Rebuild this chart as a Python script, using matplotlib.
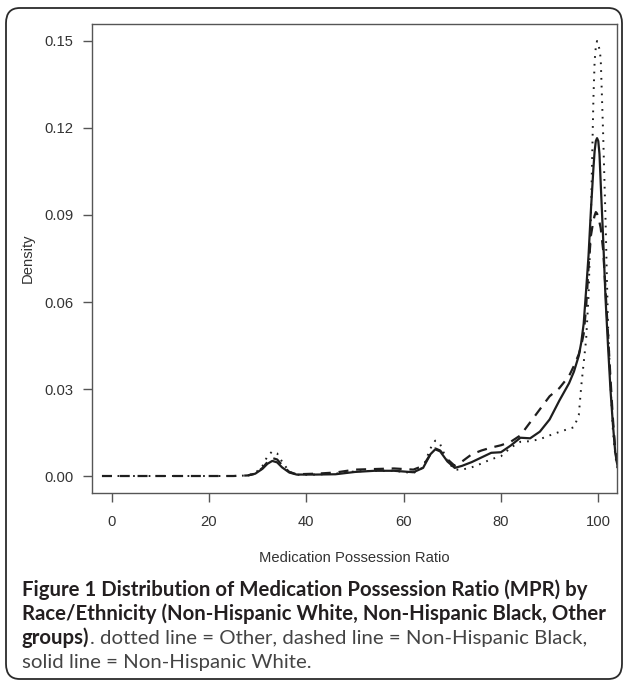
"""Density of medication possession ratio by race/ethnicity (figure 1 recreation)."""

import matplotlib

matplotlib.use("Agg")
import matplotlib.pyplot as plt
from matplotlib.patches import FancyBboxPatch

mpr = [-2, 0, 5, 10, 15, 20, 25, 28, 29.5, 31, 32, 33, 34, 35, 36.5, 38, 42, 46,
       50, 54, 58, 62, 64, 65.5, 66.5, 67.5, 69, 70.5, 72, 74, 76, 78, 80, 82,
       84, 86, 88, 90, 92, 94, 95, 96, 96.5, 97, 97.5, 98, 98.5, 99, 99.25,
       99.5, 99.75, 100, 100.25, 100.5, 101, 101.5, 102, 102.5, 103, 103.5, 104]

# the white curve only starts at MPR 28
density_white = [0.0002, 0.0008, 0.0025, 0.0042, 0.0052,
                 0.0047, 0.003, 0.0012, 0.0005, 0.0005, 0.0006, 0.0014, 0.0018,
                 0.0018, 0.0013, 0.0028, 0.0075, 0.0092, 0.0085, 0.005, 0.0028,
                 0.0035, 0.0048, 0.0064, 0.0080, 0.0082, 0.0105, 0.0132, 0.013,
                 0.0153, 0.0195, 0.026, 0.032, 0.036, 0.0415, 0.046, 0.0525,
                 0.064, 0.076, 0.092, 0.106, 0.112, 0.1155, 0.1165, 0.1155,
                 0.111, 0.101, 0.082, 0.061, 0.045, 0.030, 0.018, 0.008, 0.003]

density_black = [0, 0, 0, 0, 0, 0, 0, 0.0002, 0.0008, 0.0028, 0.0048, 0.0062,
                 0.0057, 0.0038, 0.0014, 0.0006, 0.0008, 0.0012, 0.0022, 0.0024,
                 0.0026, 0.0022, 0.0035, 0.0075, 0.0095, 0.0088, 0.0058, 0.0035,
                 0.005, 0.0075, 0.0088, 0.0098, 0.0106, 0.0118, 0.014, 0.0185,
                 0.023, 0.0275, 0.0303, 0.0345, 0.038, 0.042, 0.045, 0.049,
                 0.058, 0.072, 0.083, 0.088, 0.0898, 0.091, 0.0905, 0.089,
                 0.0875, 0.0855, 0.078, 0.064, 0.049, 0.034, 0.020, 0.009, 0.003]

density_other = [0, 0, 0, 0, 0, 0, 0, 0.0002, 0.001, 0.0035, 0.0068, 0.0085,
                 0.0078, 0.005, 0.0015, 0.0004, 0.0005, 0.0008, 0.0016, 0.0018,
                 0.0018, 0.001, 0.003, 0.0095, 0.0122, 0.011, 0.005, 0.0022,
                 0.0022, 0.003, 0.0043, 0.0058, 0.0068, 0.0098, 0.0118, 0.012,
                 0.0127, 0.014, 0.0152, 0.0163, 0.0168, 0.021, 0.031, 0.039,
                 0.047, 0.062, 0.090, 0.130, 0.143, 0.148, 0.150, 0.149, 0.147,
                 0.144, 0.118, 0.088, 0.052, 0.032, 0.016, 0.007, 0.002]

x_ticks = [0, 20, 40, 60, 80, 100]
y_ticks = [0.00, 0.03, 0.06, 0.09, 0.12, 0.15]
y_tick_labels = ["0.00", "0.03", "0.06", "0.09", "0.12", "0.15"]

caption_bold_1 = "Figure 1 Distribution of Medication Possession Ratio (MPR) by"
caption_bold_2 = "Race/Ethnicity (Non-Hispanic White, Non-Hispanic Black, Other"
caption_bold_3 = "groups)"
caption_reg_3 = ". dotted line = Other, dashed line = Non-Hispanic Black,"
caption_reg_4 = "solid line = Non-Hispanic White."

W, H = 624, 687
fig = plt.figure(figsize=(W / 100, H / 100), dpi=100)

# rounded frame around the whole figure
frame = FancyBboxPatch((6 / W, 8 / H), 616 / W, 671 / H,
                       boxstyle="round,pad=0,rounding_size=0.022",
                       transform=fig.transFigure, fill=False,
                       edgecolor="#2b2b2b", linewidth=1.3, zorder=0)
fig.patches.append(frame)

ax = fig.add_axes([92 / W, 1 - 493 / H, 525 / W, 469 / H])
line_col = "#1e1e1e"
mpr_white = mpr[len(mpr) - len(density_white):]
ax.plot(mpr_white, density_white, color=line_col, linewidth=1.6, solid_capstyle="butt")
ax.plot(mpr, density_black, color=line_col, linewidth=1.6, dashes=(4.5, 3.5))
ax.plot(mpr, density_other, color=line_col, linewidth=1.4, dashes=(0.9, 3.1))

ax.set_xlim(-4.05, 103.85)
ax.set_ylim(-0.00586, 0.15586)
ax.set_xticks(x_ticks)
ax.set_yticks(y_ticks)
ax.set_yticklabels(y_tick_labels)

frame_col = "#555555"
for spine in ax.spines.values():
    spine.set_color(frame_col)
    spine.set_linewidth(1.0)
ax.tick_params(direction="out", length=6.5, width=1.0, color=frame_col,
               labelsize=10.6, labelcolor="#333333")
ax.tick_params(axis="x", pad=9)
ax.tick_params(axis="y", pad=7)
for lab in ax.get_xticklabels() + ax.get_yticklabels():
    lab.set_family("Liberation Sans")

fig.text(354.5 / W, 1 - 558 / H, "Medication Possession Ratio", ha="center",
         va="center", fontsize=10.6, family="Liberation Sans", color="#333333")
fig.text(28 / W, 1 - 258.5 / H, "Density", ha="center", va="center",
         rotation=90, fontsize=10.6, family="Liberation Sans", color="#333333")

# caption, sized so that the two bold lines fit the reference widths
cap_font = "Lato"
cap_col = "#231f20"
reg_col = "#444444"
x0 = 22 / W
renderer = fig.canvas.get_renderer()
t1 = fig.text(x0, 1 - 595.5 / H, caption_bold_1, fontsize=12, weight="bold",
              family=cap_font, color=cap_col, va="baseline")
t2 = fig.text(x0, 1 - 620 / H, caption_bold_2, fontsize=12, weight="bold",
              family=cap_font, color=cap_col, va="baseline")
w1 = t1.get_window_extent(renderer).width
w2 = t2.get_window_extent(renderer).width
fs = min(12 * 592 / w1, 12 * 580 / w2)
t1.set_fontsize(fs)
t2.set_fontsize(fs)
t3 = fig.text(x0, 1 - 644 / H, caption_bold_3, fontsize=fs, weight="bold",
              family=cap_font, color=cap_col, va="baseline")
w3 = t3.get_window_extent(renderer).width
fig.text(x0 + w3 / W, 1 - 644 / H, caption_reg_3, fontsize=fs,
         family=cap_font, color=reg_col, va="baseline")
fig.text(x0, 1 - 668 / H, caption_reg_4, fontsize=fs, family=cap_font,
         color=reg_col, va="baseline")

fig.savefig("out.png", dpi=100)
plt.close(fig)
